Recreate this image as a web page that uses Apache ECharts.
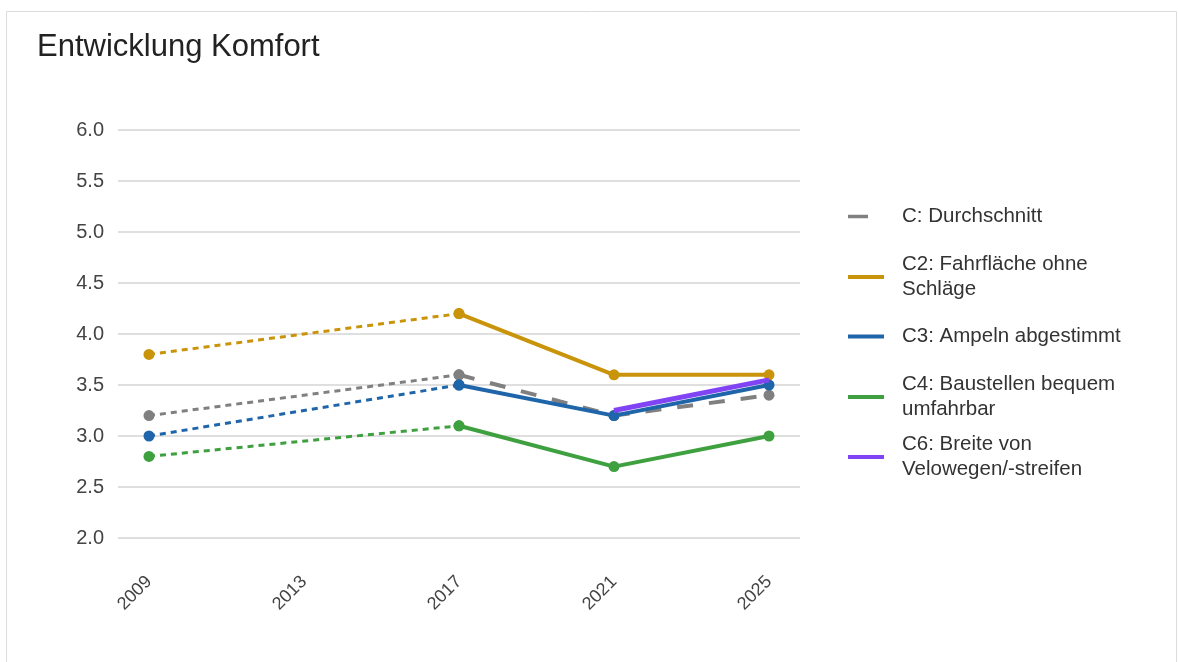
<!DOCTYPE html>
<html>
<head>
<meta charset="utf-8">
<script src="https://cdn.jsdelivr.net/npm/echarts@6/dist/echarts.min.js"></script>
<style>html,body{margin:0;padding:0;background:#fff;}#c{width:1178px;height:662px;}</style>
</head>
<body>
<div id="c"></div>
<script>
const years = [2009, 2017, 2021, 2025];
const xTickLabels = [2009, 2013, 2017, 2021, 2025];
const seriesNames = ['C: Durchschnitt', 'C2: Fahrfläche ohne Schläge', 'C3: Ampeln abgestimmt', 'C4: Baustellen bequem umfahrbar', 'C6: Breite von Velowegen/-streifen'];
const legendLabels = ['C: Durchschnitt', 'C2: Fahrfläche ohne\nSchläge', 'C3: Ampeln abgestimmt', 'C4: Baustellen bequem\numfahrbar', 'C6: Breite von\nVelowegen/-streifen'];
const valuesC  = [3.2, 3.6, 3.2, 3.4];
const valuesC2 = [3.8, 4.2, 3.6, 3.6];
const valuesC3 = [3.0, 3.5, 3.2, 3.5];
const valuesC4 = [2.8, 3.1, 2.7, 3.0];
const valuesC6 = [null, null, 3.25, 3.55];
const allValues = [valuesC, valuesC2, valuesC3, valuesC4, valuesC6];
const colors = ['#808080', '#c9940a', '#1f65a9', '#3fa03f', '#8144f5'];
const FONT = '"Liberation Sans", Arial, sans-serif';

const series = [];
allValues.forEach((vals, i) => {
  // dotted part 2009 -> 2017
  if (vals[0] !== null && vals[1] !== null) {
    series.push({
      type: 'line', name: seriesNames[i] + ' (früher)',
      data: [[years[0], vals[0]], [years[1], vals[1]]],
      lineStyle: { color: colors[i], width: 3, type: [6, 5] },
      itemStyle: { color: colors[i] },
      symbol: 'circle', symbolSize: 11, showSymbol: true,
      z: 2 + i, silent: true
    });
  }
  const main = years.map((y, k) => [y, vals[k]]).slice(1).filter(p => p[1] !== null);
  series.push({
    type: 'line', name: seriesNames[i],
    data: main,
    lineStyle: { color: colors[i], width: i === 4 ? 5 : 4, type: i === 0 ? [16, 16] : 'solid' },
    itemStyle: { color: colors[i] },
    symbol: i === 4 ? 'none' : 'circle', symbolSize: 11,
    z: 2 + i
  });
});

const legendTops = [204, 252, 324, 372, 432];
const legends = seriesNames.map((n, i) => ({
  orient: 'vertical', left: 848, top: legendTops[i], padding: 0,
  data: [{ name: n, icon: 'rect' }],
  itemWidth: i === 0 ? 20 : 36, itemHeight: i === 0 ? 3.5 : 4,
  itemGap: 0,
  selectedMode: false,
  formatter: () => legendLabels[i],
  textStyle: { fontFamily: FONT, fontSize: 20.5, color: '#333', lineHeight: 25, padding: [0, 0, 0, i === 0 ? 29 : 13] }
}));

const chart = echarts.init(document.getElementById('c'), null, { renderer: 'canvas' });
chart.setOption({
  animation: false,
  backgroundColor: '#fff',
  title: {
    text: 'Entwicklung Komfort', left: 37, top: 32, padding: 0,
    textStyle: { fontFamily: FONT, fontSize: 31, fontWeight: 'normal', color: '#222' }
  },
  graphic: [{
    type: 'rect', shape: { x: 6.5, y: 11.5, width: 1170, height: 700 },
    style: { fill: 'none', stroke: '#dcdcdc', lineWidth: 1 }, silent: true, z: 100
  }],
  legend: legends,
  grid: { left: 118, right: 378, top: 130, bottom: 124, containLabel: false },
  xAxis: {
    type: 'value', min: 2008.2, max: 2025.8,
    axisLine: { show: false }, axisTick: { show: false }, splitLine: { show: false },
    axisLabel: {
      customValues: xTickLabels, rotate: 45, margin: 41,
      fontFamily: FONT, fontSize: 18, color: '#444',
      formatter: v => String(v)
    }
  },
  yAxis: {
    type: 'value', min: 2, max: 6, interval: 0.5,
    axisLine: { show: false }, axisTick: { show: false },
    splitLine: { lineStyle: { color: '#d4d4d4', width: 1.5 } },
    axisLabel: { fontFamily: FONT, fontSize: 20, color: '#444', margin: 14, formatter: v => v.toFixed(1) }
  },
  series: series
});
</script>
</body>
</html>
